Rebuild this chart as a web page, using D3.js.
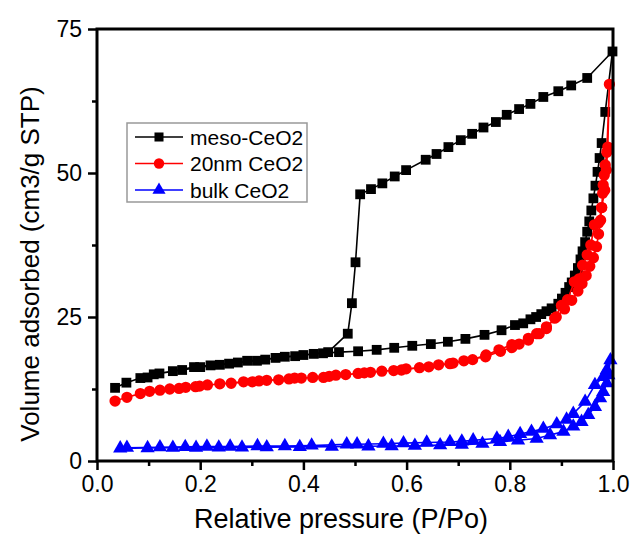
<!DOCTYPE html>
<html><head><meta charset="utf-8">
<script src="https://cdn.jsdelivr.net/npm/d3@7"></script>
<style>body{margin:0;background:#fff}text{font-family:Arial,"Liberation Sans",sans-serif}</style>
</head><body><svg id="c" width="635" height="552"></svg>
<script>
// meso-CeO2 adsorption then desorption (one connected series)
const mesoX = [0.035,0.057,0.084,0.110,0.147,0.188,0.220,0.256,0.291,0.326,0.364,0.400,0.438,0.469,0.506,0.542,0.576,0.611,0.647,0.680,0.714,0.751,0.784,0.810,0.826,0.840,0.851,0.861,0.871,0.881,0.894,0.901,0.908,0.915,0.920,0.926,0.932,0.937,0.941,0.946,0.950,0.954,0.958,0.962,0.966,0.970,0.974,0.978,0.985,0.999,
  0.950,0.919,0.894,0.865,0.840,0.818,0.794,0.773,0.749,0.727,0.705,0.681,0.658,0.637,0.599,0.577,0.553,0.531,0.510,0.501,0.494,0.486,0.448,0.420,0.384,0.346,0.310,0.273,0.238,0.200,0.165,0.121,0.098];
const mesoY = [12.7,13.6,14.4,15.05,15.6,16.3,16.6,16.9,17.4,17.6,18.1,18.4,18.7,18.9,19.05,19.3,19.65,20.0,20.3,20.7,21.2,21.9,22.7,23.6,23.9,24.6,25.0,25.5,26.0,26.5,27.3,28.2,29.2,30.2,31.0,32.2,33.5,35.0,36.4,38.0,39.8,41.6,43.5,45.6,47.8,50.2,52.6,55.2,60.6,71.1,
  66.5,65.2,64.2,63.2,62.0,61.1,60.1,58.85,57.9,56.8,55.7,54.5,53.3,52.3,50.5,49.4,48.2,47.2,46.3,34.5,27.4,22.1,18.9,18.6,18.2,17.9,17.4,17.1,16.7,16.3,15.8,15.2,14.5];
// 20nm CeO2
const nmX = [0.035,0.058,0.084,0.102,0.122,0.159,0.191,0.214,0.260,0.301,0.329,0.372,0.396,0.439,0.463,0.506,0.530,0.575,0.599,0.643,0.684,0.711,0.753,0.782,0.804,0.818,0.836,0.852,0.871,0.890,0.906,0.920,0.932,0.940,0.948,0.955,0.962,0.968,0.972,0.976,0.978,0.980,0.981,0.983,0.985,0.988,0.993,
  0.990,0.987,0.984,0.978,0.972,0.964,0.957,0.950,0.941,0.934,0.925,0.912,0.900,0.887,0.871,0.857,0.836,0.804,0.779,0.754,0.728,0.690,0.662,0.625,0.590,0.552,0.518,0.482,0.450,0.418,0.383,0.352,0.314,0.284,0.238,0.199,0.172,0.141];
const nmY = [10.4,11.05,11.7,12.1,12.3,12.6,12.9,13.2,13.5,13.75,14.0,14.25,14.4,14.5,14.9,15.2,15.4,15.7,16.0,16.35,16.9,17.4,18.1,19.05,19.7,20.3,21.0,22.1,23.3,25.0,26.4,27.9,29.5,30.8,32.2,33.8,35.3,37.2,39.4,41.8,44.0,46.5,47.9,49.6,51.4,53.6,65.4,
  54.5,50.5,47.0,44.0,41.3,41.0,37.5,35.8,34.0,31.6,31.1,28.0,27.0,24.8,23.0,22.1,21.3,20.2,19.3,18.4,17.6,17.0,16.7,16.2,15.8,15.6,15.3,15.0,14.7,14.5,14.4,14.1,13.9,13.75,13.4,13.0,12.8,12.5];
// bulk CeO2
const bulkX = [0.045,0.098,0.147,0.192,0.236,0.281,0.329,0.393,0.455,0.526,0.571,0.616,0.665,0.707,0.747,0.781,0.816,0.852,0.878,0.904,0.923,0.939,0.952,0.965,0.975,0.981,0.988,0.991,0.995,
  0.988,0.981,0.965,0.946,0.923,0.910,0.891,0.865,0.842,0.820,0.797,0.775,0.729,0.707,0.684,0.639,0.594,0.555,0.504,0.484,0.416,0.364,0.311,0.258,0.213,0.171,0.122,0.058];
const bulkY = [2.2,2.25,2.3,2.3,2.35,2.35,2.4,2.45,2.5,2.55,2.6,2.65,2.75,2.85,3.0,3.3,3.6,3.9,4.5,5.1,6.0,6.8,8.0,9.4,10.9,12.0,13.5,14.9,17.5,
  15.8,14.6,13.2,10.3,8.2,7.2,6.4,5.6,5.1,4.7,4.2,3.9,3.6,3.4,3.3,3.2,3.1,3.0,2.9,2.9,2.7,2.6,2.6,2.5,2.5,2.45,2.4,2.3];
const seriesNames = ["meso-CeO2","20nm CeO2","bulk CeO2"];
const seriesColors = ["#000000","#ff0000","#0000ff"];
const xTicks = [0,0.2,0.4,0.6,0.8,1.0];
const yTicks = [0,25,50,75];
const xLabel = "Relative pressure (P/Po)";
const yLabel = "Volume adsorbed (cm3/g STP)";

const svg = d3.select("#c");
const L=97,R=613,T=29,B=461;
const x = d3.scaleLinear().domain([0,1]).range([L,R]);
const y = d3.scaleLinear().domain([0,75]).range([B,T]);
const shapes = [d3.symbolSquare,d3.symbolCircle,d3.symbolTriangle];
const sizes = [96,100,88];
const data = [[mesoX,mesoY],[nmX,nmY],[bulkX,bulkY]];
const line = d3.line().x(d=>x(d[0])).y(d=>y(d[1]));

// series
data.forEach((s,i)=>{
  const pts = s[0].map((v,j)=>[v,s[1][j]]);
  svg.append("path").attr("d",line(pts)).attr("fill","none").attr("stroke",seriesColors[i]).attr("stroke-width",1.6);
  svg.append("g").selectAll("path").data(pts).join("path")
    .attr("d",d3.symbol().type(shapes[i]).size(sizes[i]))
    .attr("transform",d=>`translate(${x(d[0])},${y(d[1])})`)
    .attr("fill",seriesColors[i]);
});

// axes
const xAxis = d3.axisBottom(x).tickValues(xTicks).tickFormat(d3.format(".1f")).tickSize(9).tickPadding(6);
const xMinor = d3.axisBottom(x).tickValues([0.1,0.3,0.5,0.7,0.9]).tickFormat("").tickSize(5);
const yAxis = d3.axisLeft(y).tickValues(yTicks).tickFormat(d3.format("d")).tickSize(9).tickPadding(6);
const yMinor = d3.axisLeft(y).tickValues([12.5,37.5,62.5]).tickFormat("").tickSize(5);
[[xAxis,`translate(0,${B})`],[xMinor,`translate(0,${B})`],[yAxis,`translate(${L},0)`],[yMinor,`translate(${L},0)`]].forEach(([ax,tr])=>{
  const g = svg.append("g").attr("transform",tr).call(ax);
  g.select(".domain").remove();
  g.selectAll("line").attr("stroke","#000").attr("stroke-width",2.5);
  g.selectAll("text").attr("font-size",23).attr("fill","#000").style("font-family","Arial, 'Liberation Sans', sans-serif");
});
svg.append("rect").attr("x",L).attr("y",T).attr("width",R-L).attr("height",B-T)
  .attr("fill","none").attr("stroke","#000").attr("stroke-width",3);

svg.append("text").attr("x",341).attr("y",528).attr("text-anchor","middle").attr("font-size",27).text(xLabel);
svg.append("text").attr("transform","translate(39,264) rotate(-90)").attr("text-anchor","middle").attr("font-size",26).text(yLabel);

// legend
const lg = svg.append("g");
lg.append("rect").attr("x",127).attr("y",123).attr("width",180).attr("height",79).attr("fill","#fff").attr("stroke","#999").attr("stroke-width",1.5);
seriesNames.forEach((n,i)=>{
  const yy = 137 + i*26.5;
  lg.append("line").attr("x1",135).attr("x2",183).attr("y1",yy).attr("y2",yy).attr("stroke",seriesColors[i]).attr("stroke-width",1.6);
  lg.append("path").attr("d",d3.symbol().type(shapes[i]).size(sizes[i]*0.85)).attr("transform",`translate(159,${yy})`).attr("fill",seriesColors[i]);
  lg.append("text").attr("x",190).attr("y",yy+7.5).attr("font-size",21).text(n);
});
</script></body></html>
